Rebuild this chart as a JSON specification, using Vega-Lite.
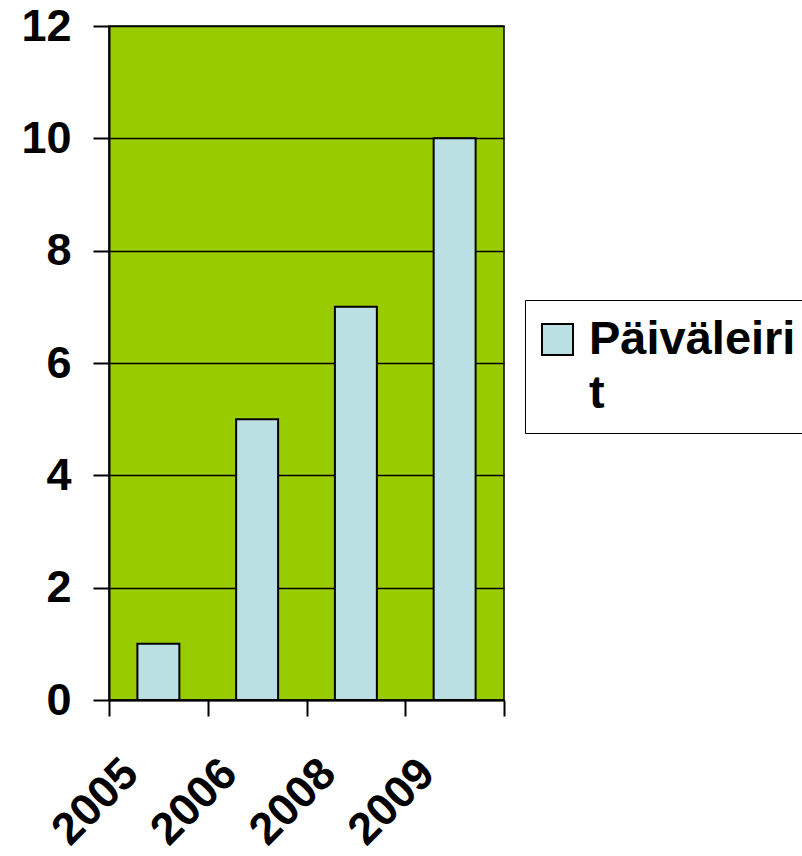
{
  "$schema": "https://vega.github.io/schema/vega-lite/v6.json",
  "autosize": {"type": "none"},
  "padding": {"left": 109, "top": 26, "right": 298, "bottom": 156},
  "width": 395,
  "height": 674,
  "background": "white",
  "data": {
    "values": [
      {"year": "2005", "value": 1, "series": "Päiväleirit"},
      {"year": "2006", "value": 5, "series": "Päiväleirit"},
      {"year": "2008", "value": 7, "series": "Päiväleirit"},
      {"year": "2009", "value": 10, "series": "Päiväleirit"}
    ]
  },
  "mark": {"type": "bar", "stroke": "black", "strokeWidth": 2, "width": {"band": 0.425}},
  "encoding": {
    "x": {
      "field": "year",
      "type": "nominal",
      "title": null,
      "scale": {"paddingInner": 0, "paddingOuter": 0},
      "axis": {
        "tickBand": "extent",
        "labelAngle": -45,
        "labelAlign": "right",
        "labelBaseline": "middle",
        "labelPadding": 50,
        "labelOffset": -28,
        "tickSize": 16,
        "tickColor": "black",
        "tickWidth": 2,
        "domainColor": "black",
        "domainWidth": 2
      }
    },
    "y": {
      "field": "value",
      "type": "quantitative",
      "title": null,
      "scale": {"domain": [0, 12], "nice": false},
      "axis": {
        "values": [0, 2, 4, 6, 8, 10, 12],
        "grid": true,
        "gridColor": "black",
        "gridWidth": 1.5,
        "gridOpacity": 1,
        "tickSize": 16,
        "tickColor": "black",
        "tickWidth": 2,
        "domainColor": "black",
        "domainWidth": 2,
        "labelPadding": 22
      }
    },
    "color": {
      "field": "series",
      "type": "nominal",
      "scale": {"range": ["#BBE0E3"]},
      "legend": {
        "orient": "none",
        "legendX": 416,
        "legendY": 274,
        "title": null,
        "labelExpr": "split(replace(datum.label, 'Päiväleirit', 'Päiväleiri|t'), '|')",
        "symbolType": "square",
        "symbolSize": 961,
        "symbolStrokeColor": "black",
        "symbolStrokeWidth": 2,
        "symbolOpacity": 1,
        "symbolOffset": -7,
        "labelOffset": 8,
        "labelBaseline": "middle",
        "padding": 16,
        "strokeColor": "black",
        "fillColor": "white"
      }
    }
  },
  "config": {
    "font": "Liberation Sans",
    "view": {"fill": "#99CC00", "stroke": "black", "strokeWidth": 1.5},
    "axis": {
      "labelFont": "Liberation Sans",
      "labelFontSize": 45,
      "labelFontWeight": "bold",
      "labelColor": "black"
    },
    "legend": {
      "labelFont": "Liberation Sans",
      "labelFontSize": 47,
      "labelFontWeight": "bold",
      "labelColor": "black",
      "labelLimit": 0
    },
    "style": {"guide-label": {"lineHeight": 54}}
  }
}
